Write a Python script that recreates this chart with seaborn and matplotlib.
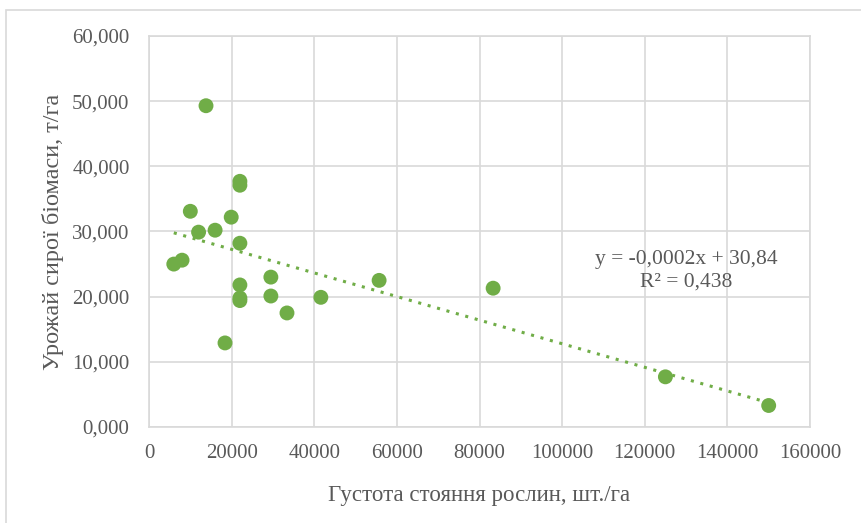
import matplotlib
matplotlib.use("Agg")
import matplotlib.pyplot as plt
import numpy as np
import pandas as pd
import seaborn as sns
from matplotlib.patches import Rectangle
from matplotlib.ticker import FuncFormatter

# plant density (pcs/ha) and fresh biomass yield (t/ha)
density = [6000, 8000, 10000, 12000, 13800, 16000, 18400, 19900,
           22000, 22000, 22000, 22000, 22000, 22000,
           29500, 29500, 33400, 41600, 55700, 83300, 125000, 150000]
yield_t = [25.0, 25.6, 33.1, 29.9, 49.3, 30.2, 12.9, 32.2,
           37.7, 37.1, 28.2, 21.8, 19.8, 19.4,
           23.0, 20.1, 17.5, 19.9, 22.5, 21.3, 7.7, 3.3]
x_ticks = [0, 20000, 40000, 60000, 80000, 100000, 120000, 140000, 160000]
y_ticks = [0, 10, 20, 30, 40, 50, 60]

GREEN = "#70ad47"
GREY = "#595959"
GRID = "#d9d9d9"

df = pd.DataFrame({"density": density, "yield": yield_t})

sns.set_style("white")
plt.rcParams["font.family"] = ["Liberation Serif", "DejaVu Serif"]

fig = plt.figure(figsize=(8.61, 5.23), dpi=100)
ax = fig.add_axes([149 / 861, 1 - 427 / 523, 661 / 861, 391 / 523])

# outer chart frame
fig.patches.append(Rectangle((6 / 861, -0.05), 1.1, 1 - 9.5 / 523 + 0.05,
                             transform=fig.transFigure, fill=False,
                             edgecolor=GRID, linewidth=1.2))

sns.scatterplot(data=df, x="density", y="yield", ax=ax, color=GREEN,
                s=115, edgecolor="none", zorder=3, legend=False)

# linear trend
k, b = np.polyfit(df["density"], df["yield"], 1)
xs = np.array([min(density), max(density)])
ax.plot(xs, k * xs + b, linestyle=(0, (1, 2.2)), color=GREEN,
        linewidth=2.2, zorder=2)

ax.text(130000, 24.0, "y = -0,0002x + 30,84\nR² = 0,438", ha="center",
        va="center", multialignment="center", fontsize=15.5, color=GREY,
        linespacing=1.25)

ax.set_xlim(0, 160000)
ax.set_ylim(0, 60)
ax.set_xticks(x_ticks)
ax.set_yticks(y_ticks)
ax.yaxis.set_major_formatter(FuncFormatter(lambda v, p: f"{v:.3f}".replace(".", ",")))
ax.grid(True, color=GRID, linewidth=1.2)
ax.set_axisbelow(True)
for sp in ax.spines.values():
    sp.set_color(GRID)
    sp.set_linewidth(1.2)
ax.tick_params(axis="both", length=0, labelsize=15, labelcolor=GREY)
ax.tick_params(axis="y", pad=14)
ax.tick_params(axis="x", pad=12)

ax.set_xlabel("Густота стояння рослин, шт./га", fontsize=16.5, color=GREY, labelpad=16)
ax.set_ylabel("Урожай сирої біомаси, т/га", fontsize=17.5, color=GREY, labelpad=6)

fig.savefig("out.png", dpi=100)
